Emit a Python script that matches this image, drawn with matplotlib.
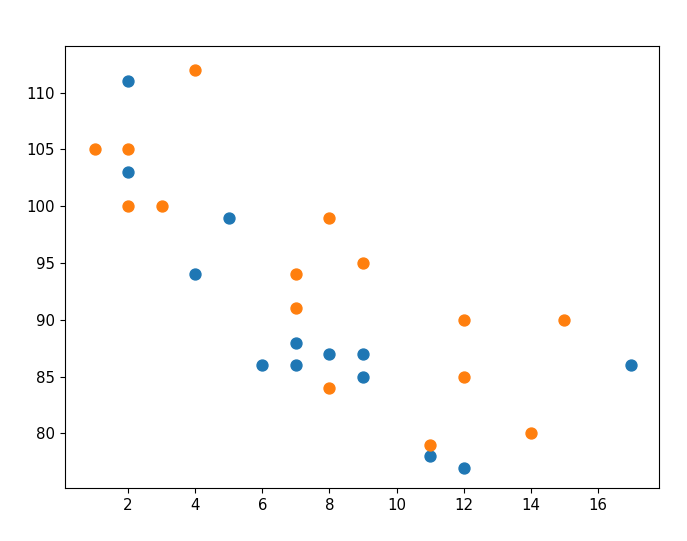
import matplotlib
matplotlib.use("Agg")
import matplotlib.pyplot as plt

# day one
x1 = [5, 7, 8, 7, 2, 17, 2, 9, 4, 11, 12, 9, 6]
y1 = [99, 86, 87, 88, 111, 86, 103, 87, 94, 78, 77, 85, 86]

# day two
x2 = [2, 2, 8, 1, 15, 8, 12, 9, 7, 3, 11, 4, 7, 14, 12]
y2 = [100, 105, 84, 105, 90, 99, 90, 95, 94, 100, 79, 112, 91, 80, 85]

fig = plt.figure(figsize=(6.87, 5.41), dpi=100)
ax = fig.add_axes([65 / 687, 1 - 488 / 541, 594 / 687, 442 / 541])
ax.scatter(x1, y1, s=62)
ax.scatter(x2, y2, s=62)
ax.set_xlim(0.12, 17.82)
ax.set_ylim(75.2, 114.1)
ax.tick_params(labelsize=10.8, length=3.9)

fig.savefig("out.png", dpi=100)
